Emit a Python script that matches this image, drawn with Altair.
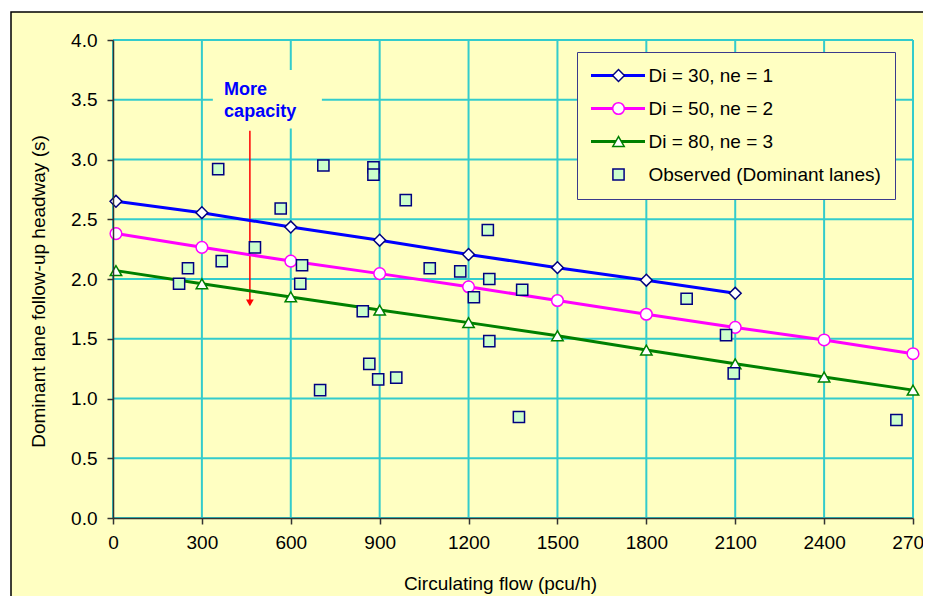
import altair as alt
import pandas as pd

# ---------------- data ----------------
series_names = ["Di = 30, ne = 1", "Di = 50, ne = 2", "Di = 80, ne = 3", "Observed (Dominant lanes)"]
x_flow = [10, 300, 600, 900, 1200, 1500, 1800, 2100, 2400, 2700]
di30 = [2.65, 2.555, 2.435, 2.325, 2.205, 2.095, 1.99, 1.88]
di50 = [2.38, 2.265, 2.15, 2.045, 1.935, 1.82, 1.705, 1.595, 1.49, 1.375]
di80 = [2.07, 1.96, 1.85, 1.74, 1.635, 1.525, 1.405, 1.29, 1.18, 1.07]

obs_x = [355, 710, 566, 479, 367, 253, 223, 638, 632, 879, 879, 988, 1265, 1069, 1172,
         1270, 1381, 1218, 843, 1270, 865, 895, 956, 699, 1370, 1936, 2069, 2095, 2644]
obs_y = [2.92, 2.95, 2.59, 2.265, 2.15, 2.09, 1.96, 2.115, 1.96, 2.935, 2.873, 2.66, 2.41, 2.09, 2.064,
         2.00, 1.91, 1.847, 1.73, 1.48, 1.29, 1.16, 1.175, 1.07, 0.845, 1.835, 1.53, 1.21, 0.82]

x_ticks = [0, 300, 600, 900, 1200, 1500, 1800, 2100, 2400, 2700]
y_ticks = [0.0, 0.5, 1.0, 1.5, 2.0, 2.5, 3.0, 3.5, 4.0]

note_lines = ["More", "capacity"]
note_x = [375, 375]
note_y = [3.58, 3.40]
note_box = {"x": [337], "x2": [705], "y": [3.26], "y2": [3.75]}
arrow_x = [462]
arrow_top = [3.24]
arrow_tip = [1.80]

# ---------------- styles ----------------
YEL = "#FFFFC2"
GRID = "#33CCCC"
FONT = "Liberation Sans"
line_colors = ["#0000FF", "#FF00FF", "#008000", "transparent"]
pt_shapes = ["diamond", "circle", "triangle-up", "square"]
pt_fills = ["white", "white", "white", "#CCFFCC"]
pt_strokes = ["#000080", "#FF00FF", "#008000", "#000080"]
pt_sizes = [140, 125, 150, 56]

# ---------------- tables ----------------
rows_line = []
for name, ys in zip(series_names[:3], [di30, di50, di80]):
    for xv, yv in zip(x_flow, ys):
        rows_line.append({"x": xv, "y": yv, "s_line": name})
df_line = pd.DataFrame(rows_line)

rows_pt = [{"x": r["x"], "y": r["y"], "s_pt": r["s_line"]} for r in rows_line]
for xv, yv in zip(obs_x, obs_y):
    rows_pt.append({"x": xv, "y": yv, "s_pt": series_names[3]})
df_pt = pd.DataFrame(rows_pt)

axis_common = dict(
    grid=False, zindex=1, domainColor="#333333", domainWidth=1.5,
    tickColor="#333333", tickWidth=1.5, tickSize=6,
    labelFont=FONT, labelFontSize=19, labelColor="black",
    titleFont=FONT, titleFontSize=19, titleFontWeight="normal", titleColor="black",
)

X = alt.X("x:Q", scale=alt.Scale(domain=[0, 2700], nice=False, zero=False),
          axis=alt.Axis(values=x_ticks, format="d", title="Circulating flow (pcu/h)",
                        labelPadding=9, titlePadding=22, titleX=387, labelFlush=False,
                        **axis_common))
Y = alt.Y("y:Q", scale=alt.Scale(domain=[0, 4], nice=False),
          axis=alt.Axis(values=y_ticks, format=".1f", title="Dominant lane follow-up headway (s)",
                        labelPadding=10, titleX=-69, titleY=251, titleAngle=270,
                        titleBaseline="alphabetic", titleAlign="center", **axis_common))

frame = alt.Chart(alt.Data(values=[{}])).mark_rect(
    fill=YEL, stroke="black", strokeWidth=1.5
).encode(x=alt.value(-102), x2=alt.value(830), y=alt.value(-28), y2=alt.value(600))

vgrid = alt.Chart(pd.DataFrame({"x": x_ticks})).mark_rule(color=GRID, strokeWidth=2).encode(x=X)
hgrid = alt.Chart(pd.DataFrame({"y": y_ticks})).mark_rule(color=GRID, strokeWidth=2).encode(y=Y)

note_bg = alt.Chart(pd.DataFrame(note_box)).mark_rect(fill=YEL).encode(
    x="x:Q", x2="x2:Q", y="y:Q", y2="y2:Q")
note = alt.Chart(pd.DataFrame({"x": note_x, "y": note_y, "t": note_lines})).mark_text(
    align="left", baseline="middle", font=FONT, fontSize=18, fontWeight="bold", color="#0000FF"
).encode(x=X, y=Y, text="t:N")

arrow = alt.Chart(pd.DataFrame({"x": arrow_x, "y": arrow_top, "y2": arrow_tip})).mark_rule(
    color="#FF0000", strokeWidth=1.5).encode(x=X, y=Y, y2="y2:Q")
arrow_head = alt.Chart(pd.DataFrame({"x": arrow_x, "y": arrow_tip})).mark_point(
    shape="triangle-down", filled=True, color="#FF0000", size=60, opacity=1).encode(x=X, y=Y)

legend_a = alt.Legend(title=None, orient="none", legendX=464, legendY=12,
                      symbolType="M-3.375,0H3.375", symbolSize=256, symbolStrokeWidth=3,
                      symbolOffset=17.5, labelOffset=21,
                      labelFont=FONT, labelFontSize=19, labelColor="black",
                      labelLimit=400, rowPadding=13, padding=14,
                      fillColor=YEL, strokeColor="#3A3A8C", zindex=1)

lines = alt.Chart(df_line).mark_line(strokeWidth=3).encode(
    x=X, y=Y,
    color=alt.Color("s_line:N", scale=alt.Scale(domain=series_names, range=line_colors),
                    legend=legend_a),
)

legend_b = alt.Legend(title=None, orient="none", legendX=482, legendY=12,
                      labelExpr="' '", labelFont=FONT, labelFontSize=19,
                      labelLimit=400, rowPadding=13, padding=14,
                      symbolStrokeWidth=1.5, symbolOpacity=1, zindex=2)

points = alt.Chart(df_pt).mark_point(strokeWidth=1.5, opacity=1).encode(
    x=X, y=Y,
    shape=alt.Shape("s_pt:N", scale=alt.Scale(range=pt_shapes), legend=legend_b),
    fill=alt.Fill("s_pt:N", scale=alt.Scale(range=pt_fills), legend=legend_b),
    stroke=alt.Stroke("s_pt:N", scale=alt.Scale(range=pt_strokes), legend=legend_b),
    size=alt.Size("s_pt:N", scale=alt.Scale(range=pt_sizes), legend=legend_b),
)

chart = alt.layer(
    frame, vgrid, hgrid, note_bg, note, arrow, arrow_head, lines, points
).properties(
    width=800, height=478,
    padding={"left": 105, "top": 32, "right": 10, "bottom": 78},
    autosize=alt.AutoSizeParams(type="none"),
).configure(background="white").configure_view(strokeWidth=0)

chart.save("out.html", embed_options={"renderer": "svg", "actions": False})
